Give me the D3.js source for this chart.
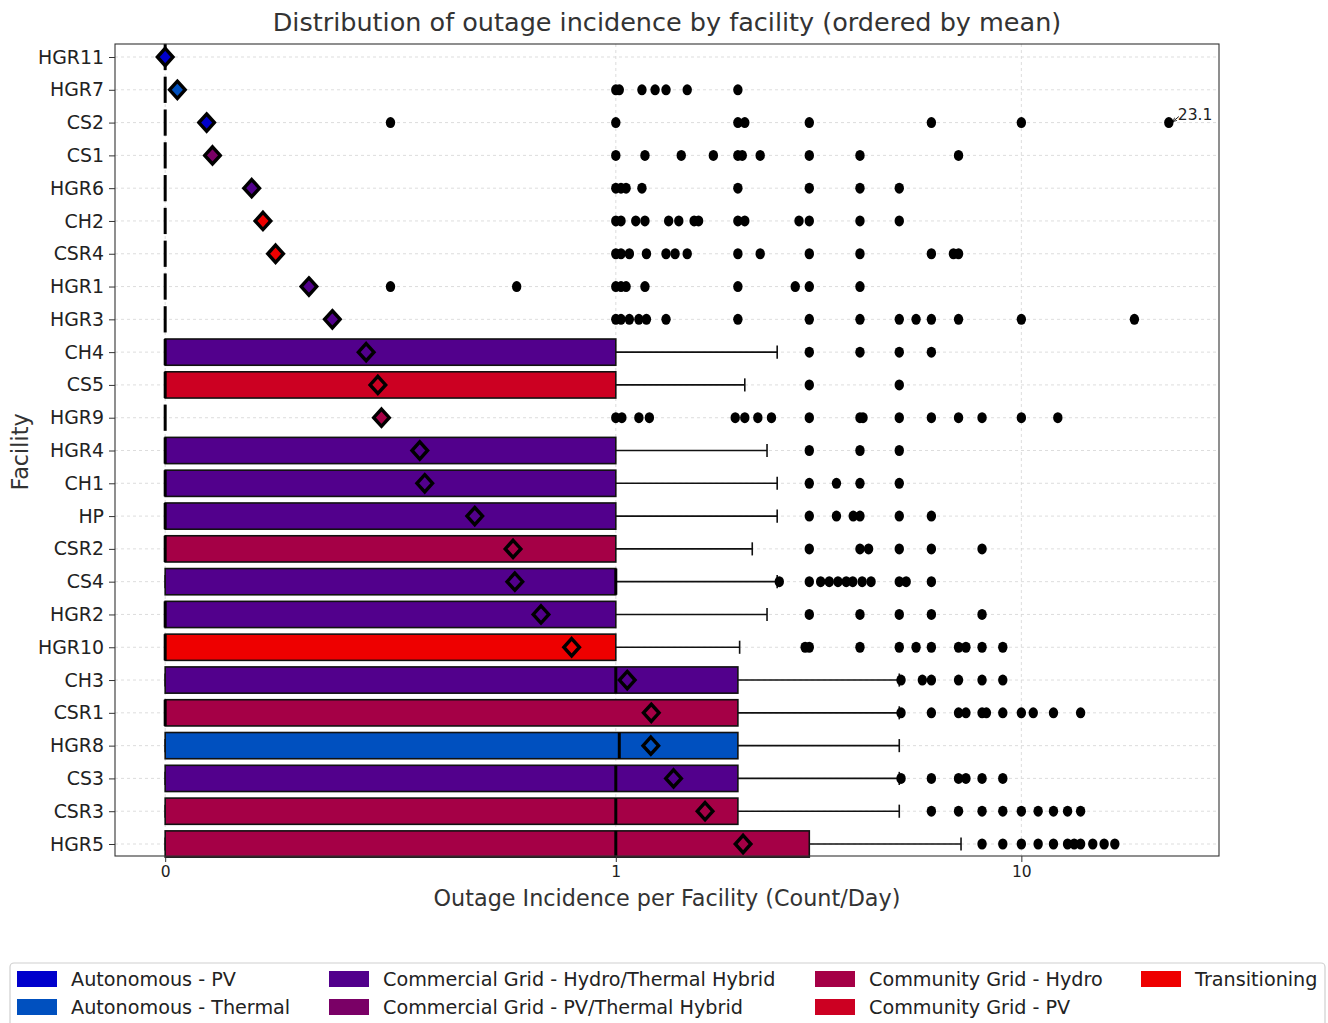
<!DOCTYPE html>
<html><head><meta charset="utf-8">
<script src="https://cdn.jsdelivr.net/npm/d3@7/dist/d3.min.js"></script>
<style>body{margin:0;background:#fff}svg{display:block;font-family:"DejaVu Sans",sans-serif}</style>
</head><body><svg id="c" width="1328" height="1023"></svg>
<script>
const facilities = ["HGR11","HGR7","CS2","CS1","HGR6","CH2","CSR4","HGR1","HGR3","CH4","CS5","HGR9","HGR4","CH1","HP","CSR2","CS4","HGR2","HGR10","CH3","CSR1","HGR8","CS3","CSR3","HGR5"];
const groups = ["Autonomous - PV","Autonomous - Thermal","Commercial Grid - Hydro/Thermal Hybrid","Commercial Grid - PV/Thermal Hybrid","Community Grid - Hydro","Community Grid - PV","Transitioning"];
const groupColors = ["#0000cc","#0050bf","#52008c","#7a0066","#a50046","#cc0022","#ee0000"];
const facilityGroup = [0,1,0,3,2,6,6,2,2,2,5,4,2,2,2,4,2,2,6,2,4,1,2,4,4];
const q1 = [0,0,0,0,0,0,0,0,0,0,0,0,0,0,0,0,0,0,0,0,0,0,0,0,0];
const medians = [0,0,0,0,0,0,0,0,0,0,0,0,0,0,0,0,1,0,0,1,0,1.02,1,1,1];
const q3 = [0,0,0,0,0,0,0,0,0,1,1,0,1,1,1,1,1,1,1,2,2,2,2,2,3];
const whiskerLo = [0,0,0,0,0,0,0,0,0,0,0,0,0,0,0,0,0,0,0,0,0,0,0,0,0];
const whiskerHi = [0,0,0,0,0,0,0,0,0,2.5,2.08,0,2.36,2.5,2.5,2.17,2.5,2.36,2.02,5,5,5,5,5,7.1];
const means = [0,0.027,0.092,0.105,0.192,0.217,0.245,0.319,0.371,0.446,0.472,0.48,0.565,0.576,0.687,0.772,0.776,0.834,0.902,1.067,1.223,1.22,1.388,1.66,2.06];
const fliers = [
  [],
  [1,1.02,1.16,1.25,1.33,1.5,2],
  [0.5,1,2,2.08,3,6,10,23.1],
  [1,1.18,1.45,1.74,2,2.05,2.27,3,4,7],
  [1,1.03,1.06,1.16,2,3,4,5],
  [1,1.03,1.12,1.18,1.35,1.43,1.56,1.6,2,2.08,2.83,3,4,5],
  [1,1.03,1.08,1.19,1.33,1.4,1.5,2,2.27,3,4,6,6.8,7],
  [0.5,0.78,1,1.03,1.06,1.18,2,2.77,3,4],
  [1,1.03,1.08,1.14,1.19,1.33,2,3,4,5,5.5,6,7,10,19],
  [3,4,5,6],
  [3,5],
  [1,1.035,1.14,1.21,1.97,2.08,2.24,2.42,3,4,4.07,5,6,7,8,10,12.3],
  [3,4,5],
  [3,3.5,4,5],
  [3,3.5,3.85,4,5,6],
  [3,4,4.2,5,6,8],
  [2.53,3,3.2,3.36,3.53,3.7,3.84,4.05,4.26,5,5.2,6],
  [3,4,5,6,8],
  [2.93,3,4,5,5.5,6,7,7.3,8,9],
  [5.05,5.7,6,7,8,9],
  [5.05,6,7,7.3,8,8.2,9,10,10.7,12,14],
  [],
  [5.05,6,7,7.3,8,9],
  [6,7,8,9,10,11,12,13,14],
  [8,9,10,11,12,13,13.5,14,15,16,17]
];
const xTickValues = [0,1,10];
const xTickLabels = ["0","1","10"];
const annotationValue = 23.1;
const annotationRow = "CS2";
const titleText = "Distribution of outage incidence by facility (ordered by mean)";
const xLabel = "Outage Incidence per Facility (Count/Day)";
const yLabel = "Facility";

// matplotlib-style symlog (linthresh 1, linscale 1, base 10)
const linAdj = 1/(1-1/10);
function symlog(v){const a=Math.abs(v);const s=Math.sign(v);return a<=1? v*linAdj : s*(linAdj+Math.log10(a));}
const dataMax = symlog(annotationValue);
const pad = dataMax*0.05;
const L=115,R=1219,T=44,B=856;
const xs = d3.scaleLinear().domain([-pad, dataMax+pad]).range([L,R]);
const x = v => xs(symlog(v));
const y = d3.scalePoint().domain(facilities).range([57,844]);
const step = y.step();
const bh = step*0.8;

const svg = d3.select("#c");
// grid
const grid = svg.append("g");
grid.selectAll("line.h").data(facilities).join("line")
  .attr("x1",L).attr("x2",R).attr("y1",d=>y(d)).attr("y2",d=>y(d))
  .attr("stroke","#d4d4d4").attr("stroke-width",0.8).attr("stroke-dasharray","3,3");
grid.selectAll("line.v").data(xTickValues).join("line")
  .attr("x1",d=>x(d)).attr("x2",d=>x(d)).attr("y1",T).attr("y2",B)
  .attr("stroke","#d4d4d4").attr("stroke-width",0.8).attr("stroke-dasharray","3,3");

const rows = facilities.map((f,i)=>({f,i,g:facilityGroup[i],q1:q1[i],med:medians[i],q3:q3[i],lo:whiskerLo[i],hi:whiskerHi[i],mean:means[i],fl:fliers[i]}));
const rg = svg.append("g").selectAll("g").data(rows).join("g").attr("transform",d=>`translate(0,${y(d.f)})`);
// whiskers
rg.append("line").attr("x1",d=>x(d.q3)).attr("x2",d=>x(d.hi)).attr("y1",0).attr("y2",0).attr("stroke","#111").attr("stroke-width",1.6);
rg.append("line").attr("x1",d=>x(d.hi)).attr("x2",d=>x(d.hi)).attr("y1",-bh/4).attr("y2",bh/4).attr("stroke","#111").attr("stroke-width",1.6);
rg.append("line").attr("x1",d=>x(d.q1)).attr("x2",d=>x(d.lo)).attr("y1",0).attr("y2",0).attr("stroke","#111").attr("stroke-width",1.6);
rg.append("line").attr("x1",d=>x(d.lo)).attr("x2",d=>x(d.lo)).attr("y1",-bh/4).attr("y2",bh/4).attr("stroke","#111").attr("stroke-width",1.6);
// boxes
rg.append("rect").attr("x",d=>x(d.q1)).attr("width",d=>x(d.q3)-x(d.q1)).attr("y",-bh/2).attr("height",bh)
  .attr("fill",d=>groupColors[d.g]).attr("stroke","#111").attr("stroke-width",1.6);
// medians
rg.append("line").attr("x1",d=>x(d.med)).attr("x2",d=>x(d.med)).attr("y1",-bh/2).attr("y2",bh/2).attr("stroke","#000").attr("stroke-width",3);
// fliers
rg.selectAll("ellipse").data(d=>d.fl).join("ellipse").attr("cx",v=>x(v)).attr("cy",0).attr("rx",4.7).attr("ry",5.5).attr("fill","#000");
// means
const dw=7.8, dh=8.6;
rg.append("path").attr("d",d=>{const cx=x(d.mean);return `M${cx},${-dh}L${cx+dw},0L${cx},${dh}L${cx-dw},0Z`;})
  .attr("fill",d=>groupColors[d.g]).attr("stroke","#000").attr("stroke-width",3.4).attr("stroke-linejoin","miter");

// frame
svg.append("rect").attr("x",L).attr("y",T).attr("width",R-L).attr("height",B-T).attr("fill","none").attr("stroke","#333").attr("stroke-width",1.1);

// axes
const xAxis = d3.axisBottom(xs).tickValues(xTickValues.map(symlog)).tickFormat((d,i)=>xTickLabels[i]).tickSizeOuter(0).tickSize(6).tickPadding(4);
const gx = svg.append("g").attr("transform",`translate(0,${B})`).call(xAxis);
gx.select(".domain").remove();
gx.attr("font-size",null).attr("font-family",null);
gx.selectAll("text").style("font-size","15.5px").attr("fill","#222").style("font-family","DejaVu Sans");
gx.selectAll("line").attr("stroke","#333");
const yAxis = d3.axisLeft(y).tickSizeOuter(0).tickSize(6).tickPadding(5);
const gy = svg.append("g").attr("transform",`translate(${L},0)`).call(yAxis);
gy.select(".domain").remove();
gy.attr("font-size",null).attr("font-family",null);
gy.selectAll("text").style("font-size","18.9px").attr("fill","#222").style("font-family","DejaVu Sans");
gy.selectAll("line").attr("stroke","#333");

// annotation
const ay = y(annotationRow), ax = x(annotationValue);
svg.append("defs").append("marker").attr("id","ah").attr("viewBox","0 0 10 10").attr("refX",9).attr("refY",5)
  .attr("markerWidth",5).attr("markerHeight",5).attr("orient","auto")
  .append("path").attr("d","M0,1L10,5L0,9").attr("fill","none").attr("stroke","#000").attr("stroke-width",1.5);
svg.append("line").attr("x1",ax+10).attr("y1",ay-6).attr("x2",ax+4).attr("y2",ay-1).attr("stroke","#000").attr("stroke-width",0.9).attr("marker-end","url(#ah)");
svg.append("text").attr("x",ax+9).attr("y",ay-3).attr("font-size",15.5).attr("fill","#222").text(annotationValue.toString());

// title and labels
svg.append("text").attr("x",667).attr("y",31).attr("text-anchor","middle").attr("font-size",25.5).attr("fill","#333").text(titleText);
svg.append("text").attr("x",667).attr("y",906).attr("text-anchor","middle").attr("font-size",22.3).attr("fill","#333").text(xLabel);
svg.append("text").attr("transform","translate(28,452) rotate(-90)").attr("text-anchor","middle").attr("font-size",22.3).attr("fill","#333").text(yLabel);

// legend
const lg = svg.append("g");
lg.append("rect").attr("x",10).attr("y",963).attr("width",1315).attr("height",80).attr("rx",4).attr("fill","#fff").attr("stroke","#cfcfcf").attr("stroke-width",1.2);
const colX = [17,329,815,1141];
const rowY = [979,1007];
groups.forEach((gname,k)=>{
  const c = Math.floor(k/2), r = k%2;
  lg.append("rect").attr("x",colX[c]).attr("y",rowY[r]-8).attr("width",40).attr("height",16).attr("fill",groupColors[k]);
  lg.append("text").attr("x",colX[c]+54).attr("y",rowY[r]+7).attr("font-size",19.2).attr("fill","#222").text(gname);
});
</script></body></html>
